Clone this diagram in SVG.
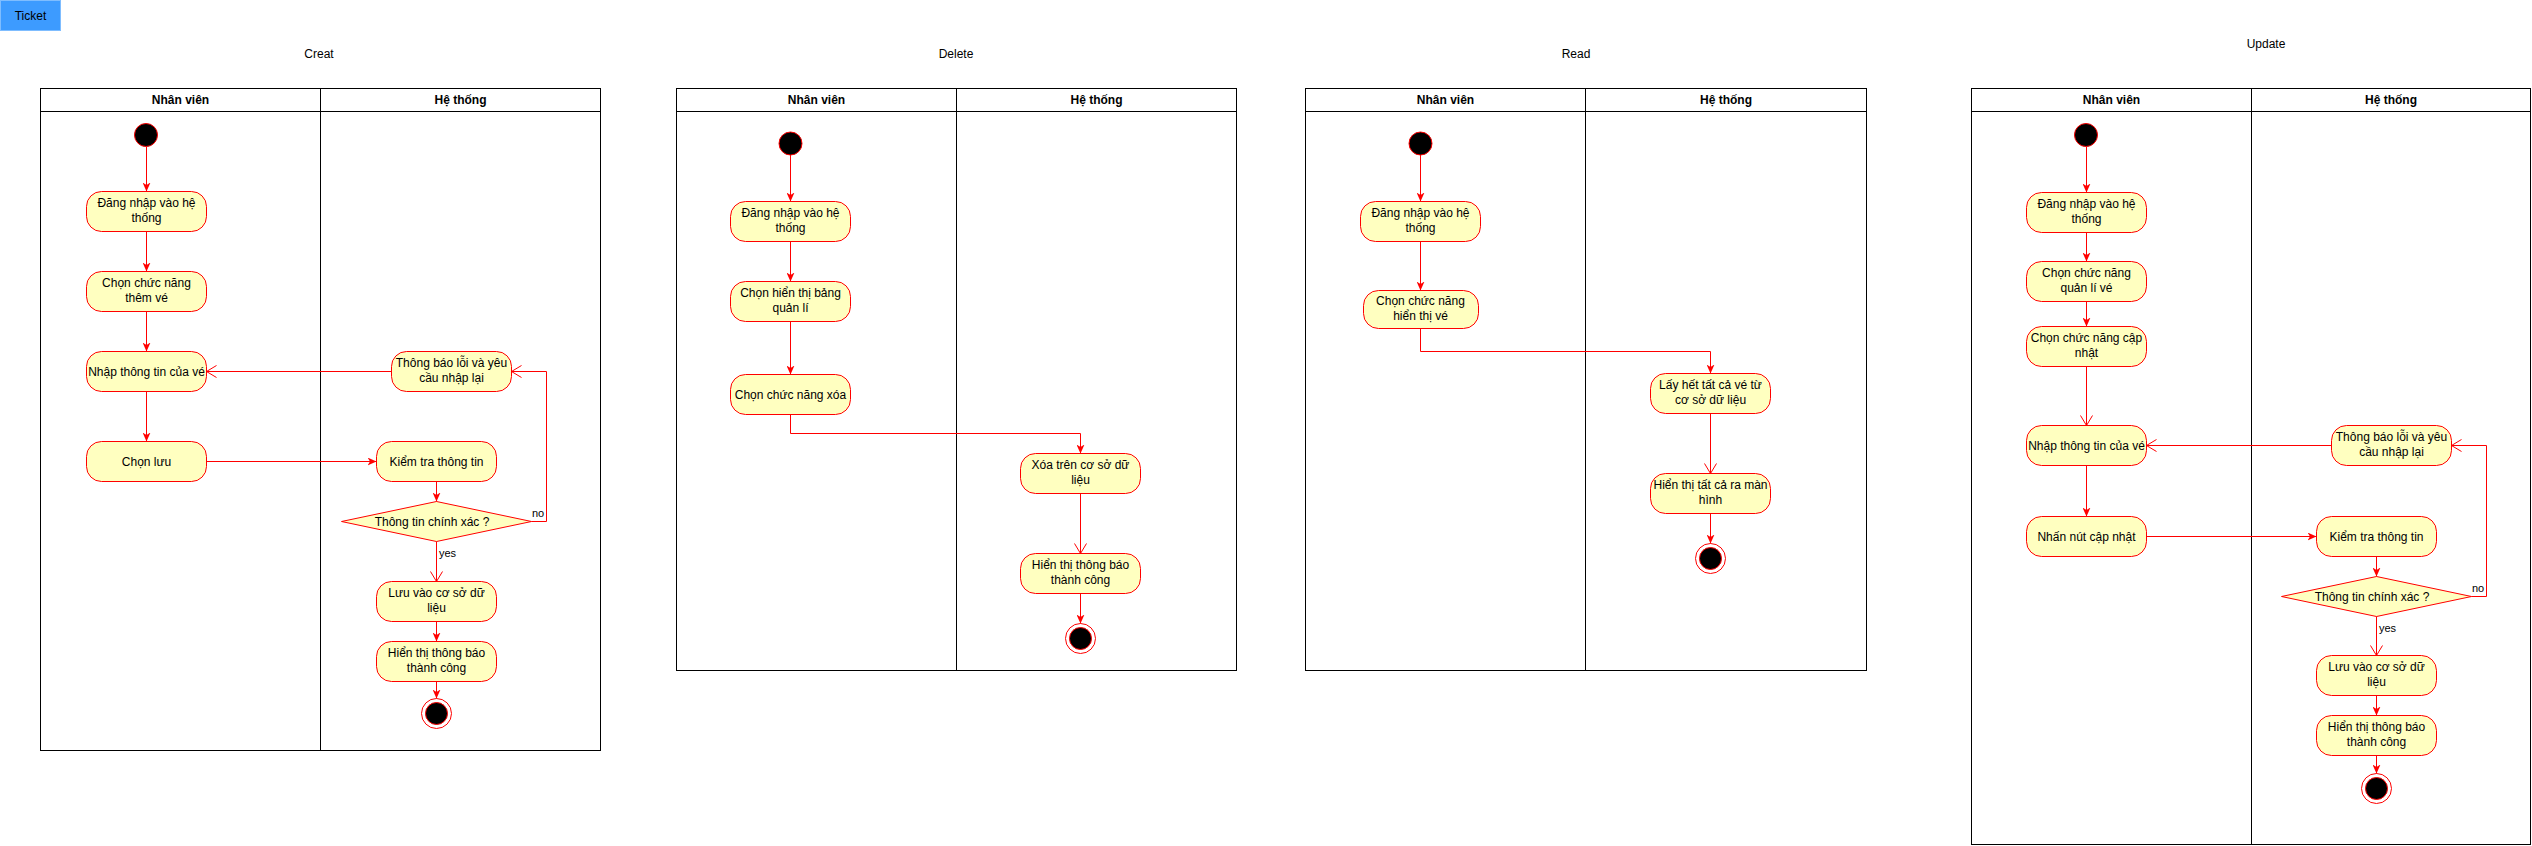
<svg xmlns="http://www.w3.org/2000/svg" width="2532" height="846" viewBox="0 0 2532 846">
<style>
.t{font-family:"Liberation Sans",Arial,sans-serif;font-size:12px;fill:#000;text-anchor:middle}
.hd{font-weight:bold}
.pool{fill:#fff;stroke:#000;stroke-width:1}
.ln{fill:none;stroke:#000;stroke-width:1}
.act{fill:#FFFFC0;stroke:#FF0000;stroke-width:1}
.dec{fill:#FFFFC0;stroke:#FF0000;stroke-width:1}
.st{fill:#000;stroke:#FF0000;stroke-width:1}
.eo{fill:#fff;stroke:#FF0000;stroke-width:1}
.e{fill:none;stroke:#FF0000;stroke-width:1}
.fc{marker-end:url(#classic)}
.fo{marker-end:url(#open)}
.lbl{font-family:"Liberation Sans",Arial,sans-serif;font-size:11px;fill:#000}
</style>
<defs>
<marker id="classic" markerUnits="userSpaceOnUse" markerWidth="9" markerHeight="8" viewBox="0 0 9 8" refX="9" refY="4" orient="auto">
<path d="M0,0 L9,4 L0,8 L2.5,4 Z" fill="#FF0000"/>
</marker>
<marker id="open" markerUnits="userSpaceOnUse" markerWidth="12" markerHeight="14" viewBox="0 0 12 14" refX="10.5" refY="7" orient="auto">
<path d="M0.5,1 L10.5,7 L0.5,13" fill="none" stroke="#FF0000" stroke-width="1"/>
</marker>
</defs>
<rect width="2532" height="846" fill="#fff"/>

<g id="ticket">
<rect x="0.5" y="0.5" width="60" height="30" fill="#3D9BFF" stroke="#7FBDFF"/>
<text class="t" x="30.5" y="19.5">Ticket</text>
</g>

<!-- ===== CREAT ===== -->
<g id="creat-title"><text class="t" x="319" y="58">Creat</text></g>
<g id="creat-pool">
<rect class="pool" x="40.5" y="88.5" width="560" height="662"/>
<line class="ln" x1="40.5" y1="111.5" x2="600.5" y2="111.5"/>
<line class="ln" x1="320.5" y1="88.5" x2="320.5" y2="750.5"/>
<text class="t hd" x="180.5" y="104">Nhân viên</text>
<text class="t hd" x="460.5" y="104">Hệ thống</text>
</g>
<g id="creat-nodes">
<g id="c-start"><circle class="st" cx="146" cy="135" r="11.5"/></g>
<g id="c-n1"><rect class="act" x="86.5" y="191.5" width="120" height="40" rx="15"/><text class="t" x="146.5" y="207">Đăng nhập vào hệ</text><text class="t" x="146.5" y="222">thống</text></g>
<g id="c-n2"><rect class="act" x="86.5" y="271.5" width="120" height="40" rx="15"/><text class="t" x="146.5" y="287">Chọn chức năng</text><text class="t" x="146.5" y="302">thêm vé</text></g>
<g id="c-n3"><rect class="act" x="86.5" y="351.5" width="120" height="40" rx="15"/><text class="t" x="146.5" y="375.5">Nhập thông tin của vé</text></g>
<g id="c-err"><rect class="act" x="391.5" y="351.5" width="120" height="40" rx="15"/><text class="t" x="451.5" y="367">Thông báo lỗi và yêu</text><text class="t" x="451.5" y="382">cầu nhập lại</text></g>
<g id="c-save"><rect class="act" x="86.5" y="441.5" width="120" height="40" rx="15"/><text class="t" x="146.5" y="465.5">Chọn lưu</text></g>
<g id="c-check"><rect class="act" x="376.5" y="441.5" width="120" height="40" rx="15"/><text class="t" x="436.5" y="465.5">Kiểm tra thông tin</text></g>
<g id="c-dec"><path class="dec" d="M341.5,521.5 L436.5,501.5 L531.5,521.5 L436.5,541.5 Z"/><text class="t" x="432" y="525.5">Thông tin chính xác ?</text></g>
<g id="c-db"><rect class="act" x="376.5" y="581.5" width="120" height="40" rx="15"/><text class="t" x="436.5" y="597">Lưu vào cơ sở dữ</text><text class="t" x="436.5" y="612">liệu</text></g>
<g id="c-ok"><rect class="act" x="376.5" y="641.5" width="120" height="40" rx="15"/><text class="t" x="436.5" y="657">Hiển thị thông báo</text><text class="t" x="436.5" y="672">thành công</text></g>
<g id="c-end"><circle class="eo" cx="436.5" cy="713.5" r="15"/><circle class="st" cx="436.5" cy="713.5" r="11"/></g>
</g>
<g id="creat-edges">
<path class="e fc" d="M146.5,147 L146.5,191.5"/>
<path class="e fc" d="M146.5,231.5 L146.5,271.5"/>
<path class="e fc" d="M146.5,311.5 L146.5,351.5"/>
<path class="e fc" d="M146.5,391.5 L146.5,441.5"/>
<path class="e fo" d="M391.5,371.5 L206.5,371.5"/>
<path class="e fc" d="M206.5,461.5 L376.5,461.5"/>
<path class="e fc" d="M436.5,481.5 L436.5,501.5"/>
<path class="e fo" d="M436.5,541.5 L436.5,581.5"/>
<path class="e fc" d="M436.5,621.5 L436.5,641.5"/>
<path class="e fc" d="M436.5,681.5 L436.5,698.5"/>
<path class="e fo" d="M531.5,521.5 L546.5,521.5 L546.5,371.5 L511.5,371.5"/>
<text class="lbl" x="439" y="557">yes</text>
<text class="lbl" x="532" y="517">no</text>
</g>

<!-- ===== DELETE ===== -->
<g id="delete-title"><text class="t" x="956" y="58">Delete</text></g>
<g id="delete-pool">
<rect class="pool" x="676.5" y="88.5" width="560" height="582"/>
<line class="ln" x1="676.5" y1="111.5" x2="1236.5" y2="111.5"/>
<line class="ln" x1="956.5" y1="88.5" x2="956.5" y2="670.5"/>
<text class="t hd" x="816.5" y="104">Nhân viên</text>
<text class="t hd" x="1096.5" y="104">Hệ thống</text>
</g>
<g id="delete-nodes">
<g id="d-start"><circle class="st" cx="790.5" cy="143.5" r="11.5"/></g>
<g id="d-n1"><rect class="act" x="730.5" y="201.5" width="120" height="40" rx="15"/><text class="t" x="790.5" y="217">Đăng nhập vào hệ</text><text class="t" x="790.5" y="232">thống</text></g>
<g id="d-n2"><rect class="act" x="730.5" y="281.5" width="120" height="40" rx="15"/><text class="t" x="790.5" y="297">Chọn hiển thị bảng</text><text class="t" x="790.5" y="312">quản lí</text></g>
<g id="d-n3"><rect class="act" x="730.5" y="374.5" width="120" height="40" rx="15"/><text class="t" x="790.5" y="398.5">Chọn chức năng xóa</text></g>
<g id="d-del"><rect class="act" x="1020.5" y="453.5" width="120" height="40" rx="15"/><text class="t" x="1080.5" y="469">Xóa trên cơ sở dữ</text><text class="t" x="1080.5" y="484">liệu</text></g>
<g id="d-ok"><rect class="act" x="1020.5" y="553.5" width="120" height="40" rx="15"/><text class="t" x="1080.5" y="569">Hiển thị thông báo</text><text class="t" x="1080.5" y="584">thành công</text></g>
<g id="d-end"><circle class="eo" cx="1080.5" cy="638.5" r="15"/><circle class="st" cx="1080.5" cy="638.5" r="11"/></g>
</g>
<g id="delete-edges">
<path class="e fc" d="M790.5,155 L790.5,201.5"/>
<path class="e fc" d="M790.5,241.5 L790.5,281.5"/>
<path class="e fc" d="M790.5,321.5 L790.5,374.5"/>
<path class="e fc" d="M790.5,414.5 L790.5,433.5 L1080.5,433.5 L1080.5,453.5"/>
<path class="e fo" d="M1080.5,493.5 L1080.5,553.5"/>
<path class="e fc" d="M1080.5,593.5 L1080.5,623.5"/>
</g>

<!-- ===== READ ===== -->
<g id="read-title"><text class="t" x="1576" y="58">Read</text></g>
<g id="read-pool">
<rect class="pool" x="1305.5" y="88.5" width="561" height="582"/>
<line class="ln" x1="1305.5" y1="111.5" x2="1866.5" y2="111.5"/>
<line class="ln" x1="1585.5" y1="88.5" x2="1585.5" y2="670.5"/>
<text class="t hd" x="1445.5" y="104">Nhân viên</text>
<text class="t hd" x="1726" y="104">Hệ thống</text>
</g>
<g id="read-nodes">
<g id="r-start"><circle class="st" cx="1420.5" cy="143.5" r="11.5"/></g>
<g id="r-n1"><rect class="act" x="1360.5" y="201.5" width="120" height="40" rx="15"/><text class="t" x="1420.5" y="217">Đăng nhập vào hệ</text><text class="t" x="1420.5" y="232">thống</text></g>
<g id="r-n2"><rect class="act" x="1363.5" y="290.5" width="115" height="38" rx="15"/><text class="t" x="1420.5" y="305">Chọn chức năng</text><text class="t" x="1420.5" y="320">hiển thị vé</text></g>
<g id="r-get"><rect class="act" x="1650.5" y="373.5" width="120" height="40" rx="15"/><text class="t" x="1710.5" y="389">Lấy hết tất cả vé từ</text><text class="t" x="1710.5" y="404">cơ sở dữ liệu</text></g>
<g id="r-show"><rect class="act" x="1650.5" y="473.5" width="120" height="40" rx="15"/><text class="t" x="1710.5" y="489">Hiển thị tất cả ra màn</text><text class="t" x="1710.5" y="504">hình</text></g>
<g id="r-end"><circle class="eo" cx="1710.5" cy="558.5" r="15"/><circle class="st" cx="1710.5" cy="558.5" r="11"/></g>
</g>
<g id="read-edges">
<path class="e fc" d="M1420.5,155 L1420.5,201.5"/>
<path class="e fc" d="M1420.5,241.5 L1420.5,290.5"/>
<path class="e fc" d="M1420.5,328.5 L1420.5,351.5 L1710.5,351.5 L1710.5,373.5"/>
<path class="e fo" d="M1710.5,413.5 L1710.5,473.5"/>
<path class="e fc" d="M1710.5,513.5 L1710.5,543.5"/>
</g>

<!-- ===== UPDATE ===== -->
<g id="update-title"><text class="t" x="2266" y="48">Update</text></g>
<g id="update-pool">
<rect class="pool" x="1971.5" y="88.5" width="559" height="756"/>
<line class="ln" x1="1971.5" y1="111.5" x2="2530.5" y2="111.5"/>
<line class="ln" x1="2251.5" y1="88.5" x2="2251.5" y2="844.5"/>
<text class="t hd" x="2111.5" y="104">Nhân viên</text>
<text class="t hd" x="2391" y="104">Hệ thống</text>
</g>
<g id="update-nodes">
<g id="u-start"><circle class="st" cx="2086" cy="135" r="11.5"/></g>
<g id="u-n1"><rect class="act" x="2026.5" y="192.5" width="120" height="40" rx="15"/><text class="t" x="2086.5" y="208">Đăng nhập vào hệ</text><text class="t" x="2086.5" y="223">thống</text></g>
<g id="u-n2"><rect class="act" x="2026.5" y="261.5" width="120" height="40" rx="15"/><text class="t" x="2086.5" y="277">Chọn chức năng</text><text class="t" x="2086.5" y="292">quản lí vé</text></g>
<g id="u-n3"><rect class="act" x="2026.5" y="326.5" width="120" height="40" rx="15"/><text class="t" x="2086.5" y="342">Chọn chức năng cập</text><text class="t" x="2086.5" y="357">nhật</text></g>
<g id="u-in"><rect class="act" x="2026.5" y="425.5" width="120" height="40" rx="15"/><text class="t" x="2086.5" y="449.5">Nhập thông tin của vé</text></g>
<g id="u-err"><rect class="act" x="2331.5" y="425.5" width="120" height="40" rx="15"/><text class="t" x="2391.5" y="441">Thông báo lỗi và yêu</text><text class="t" x="2391.5" y="456">cầu nhập lại</text></g>
<g id="u-btn"><rect class="act" x="2026.5" y="516.5" width="120" height="40" rx="15"/><text class="t" x="2086.5" y="540.5">Nhấn nút cập nhật</text></g>
<g id="u-check"><rect class="act" x="2316.5" y="516.5" width="120" height="40" rx="15"/><text class="t" x="2376.5" y="540.5">Kiểm tra thông tin</text></g>
<g id="u-dec"><path class="dec" d="M2281.5,596.5 L2376.5,576.5 L2471.5,596.5 L2376.5,616.5 Z"/><text class="t" x="2372" y="600.5">Thông tin chính xác ?</text></g>
<g id="u-db"><rect class="act" x="2316.5" y="655.5" width="120" height="40" rx="15"/><text class="t" x="2376.5" y="671">Lưu vào cơ sở dữ</text><text class="t" x="2376.5" y="686">liệu</text></g>
<g id="u-ok"><rect class="act" x="2316.5" y="715.5" width="120" height="40" rx="15"/><text class="t" x="2376.5" y="731">Hiển thị thông báo</text><text class="t" x="2376.5" y="746">thành công</text></g>
<g id="u-end"><circle class="eo" cx="2376.5" cy="788.5" r="15"/><circle class="st" cx="2376.5" cy="788.5" r="11"/></g>
</g>
<g id="update-edges">
<path class="e fc" d="M2086.5,147 L2086.5,192.5"/>
<path class="e fc" d="M2086.5,232.5 L2086.5,261.5"/>
<path class="e fc" d="M2086.5,301.5 L2086.5,326.5"/>
<path class="e fo" d="M2086.5,366.5 L2086.5,425.5"/>
<path class="e fc" d="M2086.5,465.5 L2086.5,516.5"/>
<path class="e fo" d="M2331.5,445.5 L2146.5,445.5"/>
<path class="e fc" d="M2146.5,536.5 L2316.5,536.5"/>
<path class="e fc" d="M2376.5,556.5 L2376.5,576.5"/>
<path class="e fo" d="M2376.5,616.5 L2376.5,655.5"/>
<path class="e fc" d="M2376.5,695.5 L2376.5,715.5"/>
<path class="e fc" d="M2376.5,755.5 L2376.5,773.5"/>
<path class="e fo" d="M2471.5,596.5 L2486.5,596.5 L2486.5,445.5 L2451.5,445.5"/>
<text class="lbl" x="2379" y="632">yes</text>
<text class="lbl" x="2472" y="592">no</text>
</g>
</svg>
